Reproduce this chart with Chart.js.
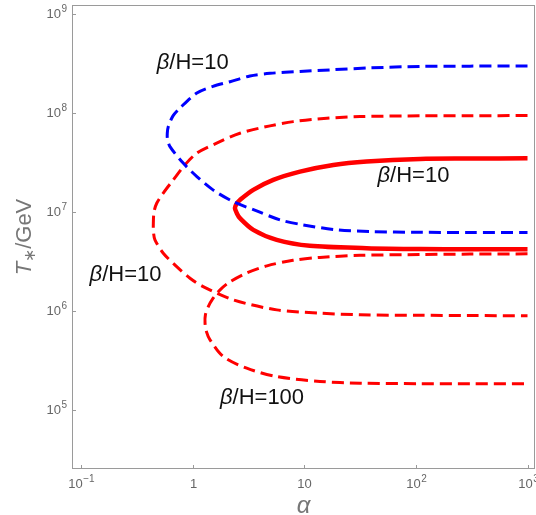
<!DOCTYPE html>
<html>
<head>
<meta charset="utf-8">
<script src="https://cdn.jsdelivr.net/npm/chart.js@4.4.0/dist/chart.umd.min.js"></script>
<style>
  html, body { margin: 0; padding: 0; background: #fff; }
</style>
</head>
<body>
<canvas id="chart" width="536" height="515"></canvas>
<script>
// values (alpha, T*/GeV), each curve traced from the upper right end round the nose
const blueAlpha = [1000, 305, 109, 38.8, 17, 9.15, 4.93, 3.26, 2.16, 1.52, 1.09, 0.77, 0.666, 0.604, 0.592, 0.594, 0.626, 0.818, 1.09, 1.52, 2.3, 3.74, 6.06, 9.7, 19.5, 38.8, 109, 305, 1000];
const blueT = [3.0e8, 2.99e8, 2.97e8, 2.87e8, 2.74e8, 2.64e8, 2.53e8, 2.38e8, 2.08e8, 1.87e8, 1.6e8, 1.13e8, 9.4e7, 7.3e7, 6.3e7, 5.5e7, 4.6e7, 3.15e7, 2.29e7, 1.68e7, 1.28e7, 1.03e7, 8.36e6, 7.45e6, 6.63e6, 6.37e6, 6.26e6, 6.24e6, 6.24e6];

const redOuterAlpha = [1000, 305, 109, 31.6, 15.9, 7.97, 4.93, 2.65, 1.64, 1.09, 0.853, 0.67, 0.545, 0.476, 0.45, 0.444, 0.445, 0.459, 0.545, 0.719, 0.946, 1.24, 2.31, 5.67, 13.8, 31.6, 109, 305, 1000];
const redOuterT = [9.46e7, 9.44e7, 9.4e7, 9.25e7, 8.9e7, 8.22e7, 7.45e7, 6.28e7, 4.98e7, 3.95e7, 3.01e7, 2.12e7, 1.56e7, 1.23e7, 1.0e7, 7.74e6, 6.32e6, 5.25e6, 3.85e6, 2.82e6, 2.15e6, 1.77e6, 1.3e6, 1.03e6, 9.55e5, 9.18e5, 9.08e5, 9.03e5, 8.97e5];

const redSolidAlpha = [1000, 305, 109, 36.2, 18.2, 9.15, 5.27, 3.49, 2.65, 2.49, 2.39, 2.49, 2.65, 3.49, 5.66, 11.2, 36.2, 109, 305, 1000];
const redSolidT = [3.51e7, 3.48e7, 3.45e7, 3.25e7, 3.0e7, 2.57e7, 2.12e7, 1.68e7, 1.33e7, 1.23e7, 1.1e7, 9.72e6, 8.69e6, 6.62e6, 5.25e6, 4.57e6, 4.33e6, 4.24e6, 4.22e6, 4.21e6];

const red100Alpha = [1000, 305, 109, 31.6, 13.8, 7.92, 4.63, 3.07, 2.16, 1.76, 1.49, 1.38, 1.30, 1.29, 1.33, 1.43, 1.88, 3.05, 5.66, 13.8, 31.6, 109, 305, 1000];
const red100T = [3.79e6, 3.77e6, 3.73e6, 3.66e6, 3.49e6, 3.26e6, 2.87e6, 2.44e6, 1.98e6, 1.64e6, 1.3e6, 1.11e6, 9.18e5, 7.57e5, 6.18e5, 5.13e5, 3.48e5, 2.65e5, 2.18e5, 1.95e5, 1.87e5, 1.85e5, 1.85e5, 1.85e5];

const xTicks = [0.1, 1, 10, 100, 1000];
const xTickBase = ["10", "1", "10", "10", "10"];
const xTickExp = ["\u22121", "", "", "2", "3"];
const yTicks = [1e5, 1e6, 1e7, 1e8, 1e9];
const yTickExp = ["5", "6", "7", "8", "9"];

const labelText = ["/H=10", "/H=10", "/H=10", "/H=100"];
const labelAlpha = [1.0, 95, 0.25, 4.18];
const labelT = [3.2e8, 2.3e7, 2.33e6, 1.33e5];

const FONT = "'Liberation Sans', Arial, sans-serif";

function pts(xs, ys) {
  return xs.map((v, i) => ({ x: v, y: ys[i] }));
}

function curve(xs, ys, color, width, dash) {
  return {
    data: pts(xs, ys),
    showLine: true,
    borderColor: color,
    borderWidth: width,
    borderDash: dash,
    borderCapStyle: "butt",
    pointRadius: 0,
    tension: 0.3,
    fill: false,
  };
}

// "10" with a raised exponent, anchored at (x, y); align is "center" or "right"
function powerLabel(ctx, base, exp, x, y, align) {
  ctx.font = "13px " + FONT;
  const wb = ctx.measureText(base).width;
  ctx.font = "10px " + FONT;
  const we = exp ? ctx.measureText(exp).width + 0.5 : 0;
  let sx = align === "right" ? x - wb - we : x - (wb + we) / 2;
  ctx.textAlign = "left";
  ctx.textBaseline = "middle";
  ctx.font = "13px " + FONT;
  ctx.fillText(base, sx, y);
  if (exp) {
    ctx.font = "10px " + FONT;
    ctx.fillText(exp, sx + wb + 0.5, y - 5);
  }
}

const decor = {
  id: "decor",
  beforeDatasetsDraw(chart) {
    const { ctx, chartArea: a, scales } = chart;
    ctx.save();
    ctx.strokeStyle = "#9a9a9a";
    ctx.lineWidth = 1;
    ctx.strokeRect(a.left + 0.5, a.top + 0.5, a.right - a.left - 1, a.bottom - a.top - 1);
    ctx.fillStyle = "#666";
    xTicks.forEach((v, i) => {
      const px = Math.round(scales.x.getPixelForValue(v)) + 0.5;
      ctx.beginPath();
      ctx.moveTo(px, a.bottom);
      ctx.lineTo(px, a.bottom - 4);
      ctx.stroke();
      powerLabel(ctx, xTickBase[i], xTickExp[i], px, a.bottom + 15, "center");
    });
    yTicks.forEach((v, i) => {
      const py = Math.round(scales.y.getPixelForValue(v)) + 0.5;
      ctx.beginPath();
      ctx.moveTo(a.left, py);
      ctx.lineTo(a.left + 4, py);
      ctx.stroke();
      powerLabel(ctx, "10", yTickExp[i], a.left - 5, py, "right");
    });

    // axis titles
    ctx.fillStyle = "#777";
    ctx.textBaseline = "middle";
    ctx.font = "italic 24px " + FONT;
    ctx.textAlign = "center";
    ctx.fillText("\u03B1", (a.left + a.right) / 2, 506);

    ctx.translate(25, (a.top + a.bottom) / 2);
    ctx.rotate(-Math.PI / 2);
    ctx.textAlign = "left";
    const f1 = "italic 22px " + FONT;
    const f2 = "16px " + FONT;
    const f3 = "22px " + FONT;
    ctx.font = f1; const w1 = ctx.measureText("T").width;
    ctx.font = f2; const w2 = ctx.measureText("\u2217").width;
    ctx.font = f3; const w3 = ctx.measureText("/GeV").width;
    let sx = -(w1 + w2 + w3) / 2;
    ctx.font = f1; ctx.fillText("T", sx, 0); sx += w1;
    ctx.font = f2; ctx.fillText("\u2217", sx, 6); sx += w2;
    ctx.font = f3; ctx.fillText("/GeV", sx, 0);
    ctx.restore();
  },
  afterDatasetsDraw(chart) {
    const { ctx, scales } = chart;
    ctx.save();
    ctx.fillStyle = "#111";
    ctx.textBaseline = "middle";
    ctx.textAlign = "left";
    const fb = "italic 22px " + FONT;
    const fr = "22px " + FONT;
    labelText.forEach((t, i) => {
      const cx = scales.x.getPixelForValue(labelAlpha[i]);
      const cy = scales.y.getPixelForValue(labelT[i]);
      ctx.font = fb; const wb = ctx.measureText("\u03B2").width;
      ctx.font = fr; const wr = ctx.measureText(t).width;
      let sx = cx - (wb + wr) / 2;
      ctx.font = fb; ctx.fillText("\u03B2", sx, cy);
      ctx.font = fr; ctx.fillText(t, sx + wb, cy);
    });
    ctx.restore();
  },
};

new Chart(document.getElementById("chart"), {
  type: "scatter",
  data: {
    datasets: [
      curve(blueAlpha, blueT, "#0000ff", 3, [12, 6]),
      curve(redOuterAlpha, redOuterT, "#ff0000", 3, [12, 6]),
      curve(red100Alpha, red100T, "#ff0000", 3, [12, 6]),
      curve(redSolidAlpha, redSolidT, "#ff0000", 4.5, []),
    ],
  },
  options: {
    responsive: false,
    animation: false,
    devicePixelRatio: 1,
    layout: { padding: { top: 5, right: 1, left: 0, bottom: 0 } },
    plugins: { legend: { display: false }, tooltip: { enabled: false } },
    scales: {
      x: {
        type: "logarithmic",
        min: 0.0829,
        max: 1167,
        border: { display: false },
        grid: { display: false, drawTicks: false },
        afterBuildTicks: (s) => { s.ticks = xTicks.map((v) => ({ value: v })); },
        afterFit: (s) => { s.height = 46; s.paddingLeft = 0; s.paddingRight = 0; },
        ticks: { display: false },
      },
      y: {
        type: "logarithmic",
        min: 2.54e4,
        max: 1.24e9,
        border: { display: false },
        grid: { display: false, drawTicks: false },
        afterBuildTicks: (s) => { s.ticks = yTicks.map((v) => ({ value: v })); },
        afterFit: (s) => { s.width = 72; s.paddingTop = 0; s.paddingBottom = 0; },
        ticks: { display: false },
      },
    },
  },
  plugins: [decor],
});
</script>
</body>
</html>
